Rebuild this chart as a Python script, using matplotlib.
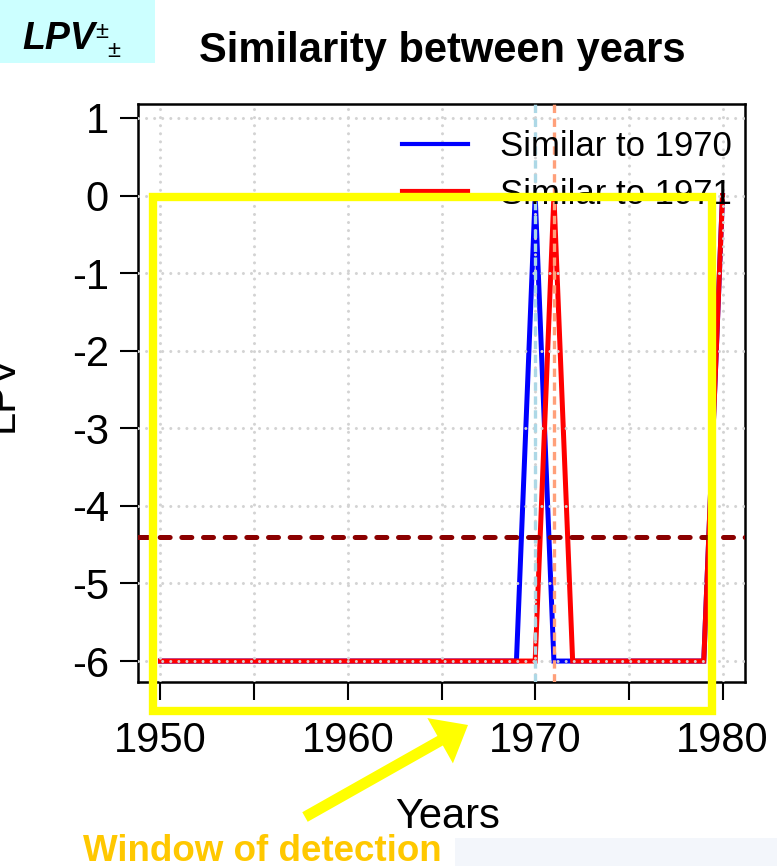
import matplotlib
matplotlib.use("Agg")
import matplotlib.pyplot as plt
from matplotlib import transforms
from matplotlib.patches import Rectangle, FancyArrow

plt.rcParams["font.family"] = ["Liberation Sans", "DejaVu Sans"]
plt.rcParams["axes.unicode_minus"] = False
plt.rcParams["lines.scale_dashes"] = False

# ---- data -------------------------------------------------------------
years = list(range(1950, 1981))
similar_1970 = [-6, -6, -6, -6, -6, -6, -6, -6, -6, -6,
                -6, -6, -6, -6, -6, -6, -6, -6, -6, -6,
                0, -6, -6, -6, -6, -6, -6, -6, -6, -6, 0]
similar_1971 = [-6, -6, -6, -6, -6, -6, -6, -6, -6, -6,
                -6, -6, -6, -6, -6, -6, -6, -6, -6, -6,
                -6, 0, -6, -6, -6, -6, -6, -6, -6, -6, 0]
series_labels = ["Similar to 1970", "Similar to 1971"]
reference_years = [1970, 1971]
threshold = -4.4
x_ticks = [1950, 1955, 1960, 1965, 1970, 1975, 1980]
x_tick_labels = ["1950", "", "1960", "", "1970", "", "1980"]
y_ticks = [-6, -5, -4, -3, -2, -1, 0, 1]

W, H = 777, 866
fig = plt.figure(figsize=(W / 100, H / 100), dpi=100)
ax = fig.add_axes([138 / W, 1 - 682 / H, 607 / W, 578 / H])

ax.plot(years, similar_1970, color="#0000FF", lw=3.6, zorder=2,
        label=series_labels[0], solid_joinstyle="miter")
ax.plot(years, similar_1971, color="#FF0000", lw=3.6, zorder=2.1,
        label=series_labels[1], solid_joinstyle="miter")

ax.set_xlim(1948.8, 1981.2)
ax.set_ylim(-6.27, 1.18)
ax.set_xticks(x_ticks)
ax.set_xticklabels(x_tick_labels)
ax.set_yticks(y_ticks)
ax.set_yticklabels([str(v) for v in y_ticks])
ax.tick_params(axis="both", direction="out", length=13, width=1.5,
               labelsize=30, colors="black")
ax.tick_params(axis="x", pad=15)
ax.tick_params(axis="y", pad=8)

# dotted grid drawn over the series
ax.grid(True, color="#D3D3D3", linestyle=(0, (0.01, 5.8)), lw=2.2,
        dash_capstyle="round", zorder=3)
ax.set_axisbelow(False)
for g in ax.get_xgridlines() + ax.get_ygridlines():
    g.set_zorder(3)

# reference year markers
ax.axvline(reference_years[0], color="#ADD8E6", lw=2.4,
           linestyle=(0, (6, 4)), zorder=4)
ax.axvline(reference_years[1], color="#FFA07A", lw=2.4,
           linestyle=(0, (6, 4)), zorder=4)

# threshold
ax.axhline(threshold, color="#8B0000", lw=3.6, linestyle=(0, (7.2, 8.4)),
           dash_capstyle="round", zorder=5)

for s in ax.spines.values():
    s.set_linewidth(1.8)

leg = ax.legend(loc="upper left", bbox_to_anchor=(402 / W, 1 - 130 / H),
                bbox_transform=fig.transFigure, frameon=False, fontsize=25,
                handlelength=1.9, handletextpad=0.92, labelspacing=0.42,
                borderpad=0, borderaxespad=0)
for line in leg.get_lines():
    line.set_linewidth(3.0)

# titles and labels
fig.text(442 / W, 1 - 62 / H, "Similarity between years", fontsize=30,
         fontweight="bold", ha="center", va="baseline")
fig.text(448 / W, 1 - 828 / H, "Years", fontsize=30, ha="center",
         va="baseline")
fig.text(1.5 / W, 1 - 393 / H, "LPV", fontsize=30, rotation=90,
         ha="center", va="center")

# pixel-space transform for overlays (y measured from the top)
px = transforms.Affine2D().scale(1 / 100).scale(1, -1).translate(0, H / 100) \
    + fig.dpi_scale_trans

fig.patches.append(Rectangle((0, 0), 155, 63, transform=px,
                             facecolor="#CCFFFF", edgecolor="none", zorder=0))
fig.text(22, 49, "LPV", transform=px, fontsize=27, fontweight="bold",
         fontstyle="italic", ha="left", va="baseline")
fig.text(95, 38, "\u00b1", transform=px, fontsize=17, ha="left",
         va="baseline")
fig.text(107, 57, "\u00b1", transform=px, fontsize=17, ha="left",
         va="baseline")

# soft slide background strip at the bottom right
fig.patches.append(Rectangle((455, 838), 322, 28, transform=px,
                             facecolor="#F3F6FB", edgecolor="none", zorder=0))

# detection window
fig.patches.append(Rectangle((153, 197), 559, 514, transform=px,
                             facecolor="none", edgecolor="#FFFF00",
                             lw=6, zorder=10))
fig.patches.append(FancyArrow(305, 817, 163, -92, width=11, head_width=52,
                              head_length=32, length_includes_head=True,
                              transform=px, facecolor="#FFFF00",
                              edgecolor="none", zorder=10))
fig.text(83, 861, "Window of detection", transform=px, fontsize=26.5,
         fontweight="bold", color="#FFC800", ha="left", va="baseline")

fig.savefig("out.png", dpi=100)
